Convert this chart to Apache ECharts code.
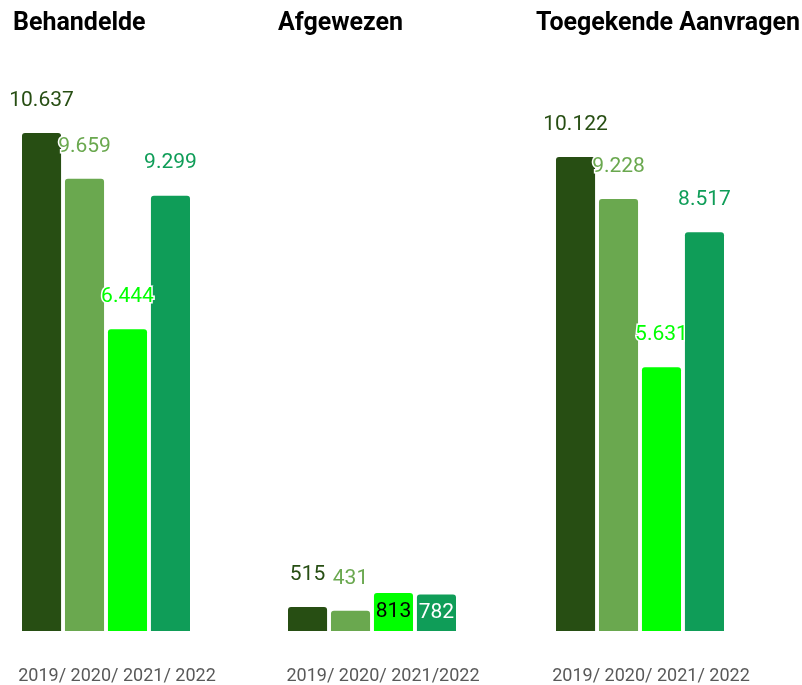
<!DOCTYPE html>
<html lang="nl">

<head>
    <meta charset="UTF-8">
    <title>Aanvragen</title>
    <style>
        html, body { margin: 0; padding: 0; background: #fff; }
        #main { width: 802px; height: 685px; }
    </style>
</head>

<body>
    <div id="main"></div>
    <script src="https://cdn.jsdelivr.net/npm/echarts@6/dist/echarts.min.js"></script>
    <script>
        var years = ['2019', '2020', '2021', '2022'];
        var behandelde = [10637, 9659, 6444, 9299];
        var afgewezen = [515, 431, 813, 782];
        var toegekend = [10122, 9228, 5631, 8517];
        var panelTitles = ['Behandelde', 'Afgewezen', 'Toegekende Aanvragen'];
        var axisLabels = ['2019/ 2020/ 2021/ 2022', '2019/ 2020/ 2021/2022', '2019/ 2020/ 2021/ 2022'];
        var colors = ['#274e13', '#6aa84f', '#00ff00', '#0f9d58'];

        var panels = [behandelde, afgewezen, toegekend];
        var gridLeft = [22, 288, 556];
        var titleLeft = [13, 278, 536];

        function fmt(v) {
            return String(v).replace(/\B(?=(\d{3})+(?!\d))/g, '.');
        }

        var grids = [], xAxes = [], yAxes = [], series = [], titles = [];
        panels.forEach(function (values, p) {
            grids.push({ left: gridLeft[p], width: 168, top: 116, bottom: 47 });
            titles.push({
                text: panelTitles[p], left: titleLeft[p], top: 11, padding: 0,
                textStyle: { fontFamily: 'Roboto', fontWeight: 'bold', fontSize: 25, color: '#000' }
            });
            xAxes.push({
                type: 'category', gridIndex: p, data: [axisLabels[p]],
                axisLine: { show: false }, axisTick: { show: false },
                axisLabel: { margin: 36, padding: [0, 0, 0, 22], fontFamily: 'Roboto', fontSize: 18, color: '#595959' }
            });
            yAxes.push({ type: 'value', gridIndex: p, min: 0, max: 11000, show: false, splitLine: { show: false } });

            values.forEach(function (v, i) {
                // the two higher Afgewezen bars carry their label inside
                var inside = p === 1 && i >= 2;
                series.push({
                    type: 'bar', name: years[i], xAxisIndex: p, yAxisIndex: p,
                    data: [v], barGap: '10%', barCategoryGap: 0,
                    itemStyle: { color: colors[i], borderRadius: [3, 3, 0, 0] },
                    label: {
                        show: true,
                        position: inside ? 'inside' : 'top',
                        distance: 22,
                        formatter: function (d) { return fmt(d.value); },
                        fontFamily: 'Roboto', fontSize: 21,
                        color: inside ? (i === 2 ? '#000' : '#fff') : colors[i],
                        textBorderColor: inside ? 'transparent' : '#fff',
                        textBorderWidth: inside ? 0 : 3
                    }
                });
            });
        });

        var chart = echarts.init(document.getElementById('main'));
        chart.setOption({
            animation: false,
            title: titles,
            grid: grids,
            xAxis: xAxes,
            yAxis: yAxes,
            series: series
        });
    </script>
</body>

</html>
